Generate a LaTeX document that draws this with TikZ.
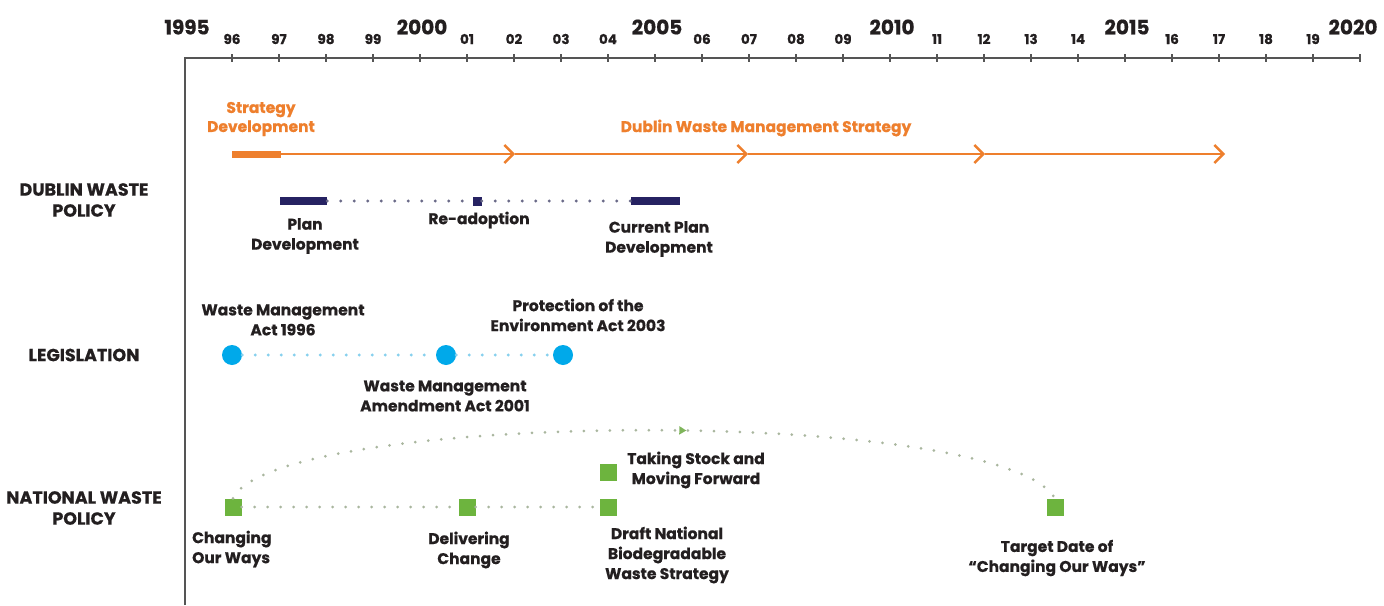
\documentclass[tikz,border=0pt]{standalone}
\usepackage{fontspec}
\setmainfont{Poppins}[BoldFeatures={FakeBold=0.6}]
\usetikzlibrary{arrows.meta,decorations.markings}
\definecolor{ink}{HTML}{231F20}
\definecolor{axisgray}{HTML}{555555}
\definecolor{orng}{HTML}{EE7F2D}
\definecolor{navy}{HTML}{262262}
\definecolor{navydot}{HTML}{6A6A88}
\definecolor{cyanc}{HTML}{00A9EA}
\definecolor{cyandot}{HTML}{86D0EE}
\definecolor{grn}{HTML}{6DB43E}
\definecolor{grndot}{HTML}{A9B69E}
\tikzset{
  axisline/.style={draw=axisgray, line width=1.6pt},
  tickmark/.style={draw=axisgray, line width=1.2pt},
  biglab/.style={font=\fontsize{20}{22}\selectfont\bfseries, text=ink, inner sep=0pt},
  smalllab/.style={font=\fontsize{13.5}{15}\selectfont\bfseries, text=ink, inner sep=0pt},
  rowlab/.style={font=\fontsize{17.5}{21}\selectfont\bfseries, text=ink, align=center, inner sep=0pt},
  lbl/.style={font=\fontsize{15.5}{20}\selectfont\bfseries, text=ink, align=center, inner sep=0pt},
  olab/.style={font=\fontsize{15.5}{19}\selectfont\bfseries, text=orng, align=center, inner sep=0pt},
  obar/.style={fill=orng, minimum width=49pt, minimum height=7pt, inner sep=0pt},
  oline/.style={draw=orng, line width=2.6pt, -{Straight Barb[length=9pt,width=18pt,line width=2.4pt]}},
  nbar/.style={fill=navy, minimum width=47pt, minimum height=8pt, inner sep=0pt},
  nsq/.style={fill=navy, minimum width=9pt, minimum height=9pt, inner sep=0pt},
  ndots/.style={draw=navydot, line width=3.2pt, line cap=round, dash pattern=on 0pt off 13.5pt},
  cdot/.style={circle, fill=cyanc, minimum size=20pt, inner sep=0pt},
  cdots/.style={draw=cyandot, line width=3.2pt, line cap=round, dash pattern=on 0pt off 13pt},
  gsq/.style={fill=grn, minimum width=17pt, minimum height=17pt, inner sep=0pt},
  gdots/.style={draw=grndot, line width=3pt, line cap=round, dash pattern=on 0pt off 13pt},
}
\begin{document}
\begin{tikzpicture}[x=1pt,y=-1pt]
\useasboundingbox[fill=white] (0,0) rectangle (1384,605);
% axis
\coordinate (axB) at (185,605);
\coordinate (axL) at (185,58);
\coordinate (axR) at (1360,58);
\draw[axisline] (axB) -- (axL) -- (axR);
\foreach \i in {1,...,25} \draw[tickmark] ({185+47*\i},54) -- ({185+47*\i},62);
\foreach \y/\lab in {0/1995,5/2000,10/2005,15/2010,20/2015}
  \node[biglab] (y\lab) at ({187+47*\y},27) {\lab};
\node[biglab] (y2020) at (1353,27) {2020};
\foreach \y/\lab in {1/96,2/97,3/98,4/99,6/01,7/02,8/03,9/04,11/06,12/07,13/08,14/09,16/11,17/12,18/13,19/14,21/16,22/17,23/18,24/19}
  \node[smalllab] (s\lab) at ({185+47*\y},39) {\lab};
% row labels
\node[rowlab] (rdwp) at (84,200) {DUBLIN WASTE\\POLICY};
\node[rowlab] (rleg) at (84,355) {LEGISLATION};
\node[rowlab] (rnwp) at (84,508) {NATIONAL WASTE\\POLICY};
% strategy
\node[olab] (sdl) at (261,119) {Strategy\\Development};
\node[olab] (dwms) at (766,128) {Dublin Waste Management Strategy};
\node[obar] (sd) at (256.5,154) {};
\coordinate (c1) at (515,154);
\coordinate (c2) at (748,154);
\coordinate (c3) at (985,154);
\coordinate (c4) at (1225,154);
\draw[oline] (sd.east) -- (c1);
\draw[oline] (c1) -- (c2);
\draw[oline] (c2) -- (c3);
\draw[oline] (c3) -- (c4);
% plan
\node[nbar] (pd) at (303.5,201) {};
\node[nsq] (ra) at (477,201) {};
\node[nbar, minimum width=49pt] (cpd) at (655.5,201) {};
\draw[ndots] (pd.east) -- (ra.west);
\draw[ndots] (ra.east) -- (cpd.west);
\node[lbl] (pdl) at (305,236) {Plan\\Development};
\node[lbl] (ral) at (479,220) {Re-adoption};
\node[lbl] (cpdl) at (659,239) {Current Plan\\Development};
% legislation
\node[cdot] (wm96) at (232,355) {};
\node[cdot] (wma01) at (446,355) {};
\node[cdot] (pea03) at (563,355) {};
\draw[cdots] (wm96.east) -- (wma01.west);
\draw[cdots] (wma01.east) -- (pea03.west);
\node[lbl] (wm96l) at (283,320) {Waste Management\\Act 1996};
\node[lbl] (pea03l) at (578,315) {Protection of the\\Environment Act 2003};
\node[lbl] (wma01l) at (445,396) {Waste Management\\Amendment Act 2001};
% national
\node[gsq] (cow) at (233,507) {};
\node[gsq] (dc) at (467,507) {};
\node[gsq] (dnb) at (608,507) {};
\node[gsq] (tsm) at (608,472) {};
\node[gsq] (tgt) at (1055,507) {};
\draw[gdots] (cow.east) -- (dc.west);
\draw[gdots] (dc.east) -- (dnb.west);
\draw[gdots, postaction={decorate}, decoration={markings,
  mark=at position 0.55 with {\arrow[grn!70!grndot]{Triangle[length=7pt,width=8pt]}}}]
  (cow.north) .. controls (275,410) and (1000,405) .. (tgt.north);
\node[lbl, align=left, anchor=west] (cowl) at (192,549) {Changing\\Our Ways};
\node[lbl] (dcl) at (469,550) {Delivering\\Change};
\node[lbl] (dnbl) at (667,555) {Draft National\\Biodegradable\\Waste Strategy};
\node[lbl] (tsml) at (696,470) {Taking Stock and\\Moving Forward};
\node[lbl] (tgtl) at (1057,558) {Target Date of\\“Changing Our Ways”};
\end{tikzpicture}
\end{document}
